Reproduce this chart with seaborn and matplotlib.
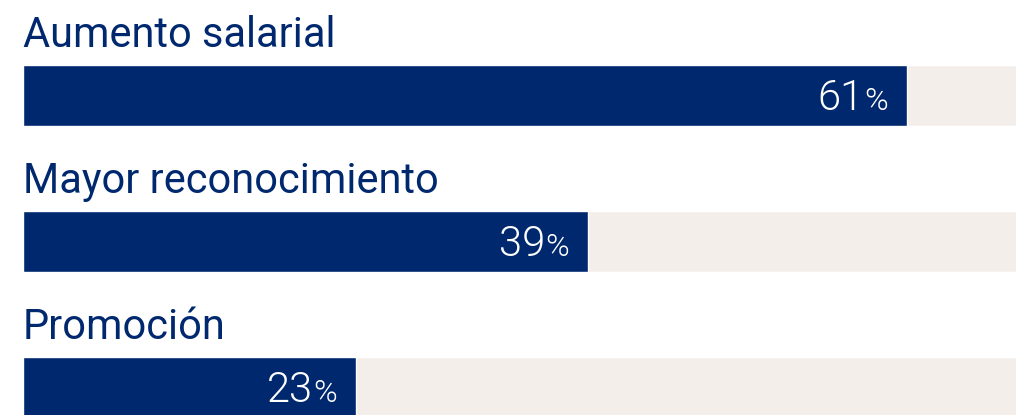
import matplotlib
matplotlib.use("Agg")
import matplotlib.pyplot as plt
import seaborn as sns
import pandas as pd

categories = ["Aumento salarial", "Mayor reconocimiento", "Promoción"]
values = [61, 39, 23]
totals = [100, 100, 100]

navy = "#00286E"
track = "#F3EEEA"

sns.set_style("white")
plt.rcParams["font.family"] = ["Roboto", "DejaVu Sans"]

df = pd.DataFrame({"cat": categories, "val": values, "tot": totals})

fig = plt.figure(figsize=(10.16, 4.15), dpi=100)
ax = fig.add_axes([0, 0, 1, 1])

sns.barplot(data=df, y="cat", x="tot", color=track, width=0.418,
            saturation=1, ax=ax, orient="h")
sns.barplot(data=df, y="cat", x="val", color=navy, width=0.418,
            saturation=1, ax=ax, orient="h")

px = 14.487  # pixels per percent
ax.set_xlim(-23 / px, (1016 - 23) / px)
ax.set_ylim(2.188, -0.654)

for i, (c, v) in enumerate(zip(categories, values)):
    ax.text(0, i - 0.332, c, ha="left", va="baseline",
            fontsize=29.9, color=navy)
    ax.annotate("%", xy=(v, i + 0.1), xytext=(-19 * 0.72, 0),
                textcoords="offset points", ha="right", va="baseline",
                fontsize=23, color="white", fontweight=300)
    ax.annotate(str(v), xy=(v, i + 0.1), xytext=(-43 * 0.72, 0),
                textcoords="offset points", ha="right", va="baseline",
                fontsize=30, color="white", fontweight=300)

ax.set_axis_off()
fig.savefig("out.png", dpi=100)
